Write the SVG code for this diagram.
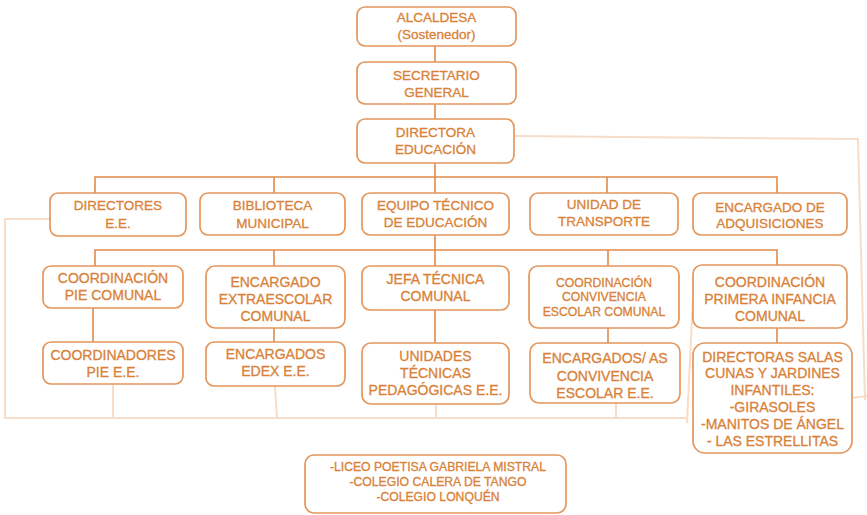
<svg xmlns="http://www.w3.org/2000/svg" width="867" height="515" viewBox="0 0 867 515">
<style>
.box{fill:#fff;stroke:#E3975C;stroke-width:1.7}
.t{font-family:"Liberation Sans",Arial,sans-serif;font-size:13.5px;fill:#D98137;stroke:#D98137;stroke-width:0.3;text-anchor:middle}
.m{font-size:14px}
.s{font-size:12.2px}
.dk{stroke:#E08A4A;stroke-width:1.6;fill:none}
.lt{stroke:#F7DCC7;stroke-width:2;fill:none}
</style>
<rect width="867" height="515" fill="#fff"/>
<g id="connectors">
<line class="dk" x1="435" y1="46" x2="435" y2="62"/>
<line class="dk" x1="435" y1="104" x2="435" y2="119"/>
<line class="dk" x1="435" y1="163" x2="435" y2="193"/>
<line class="dk" x1="435" y1="235" x2="435" y2="266"/>
<line class="dk" x1="435" y1="310" x2="435" y2="343"/>
<polyline class="dk" points="95,193 95,177 777,177 777,193"/>
<line class="dk" x1="274" y1="177" x2="274" y2="193"/>
<line class="dk" x1="607" y1="177" x2="607" y2="193"/>
<polyline class="dk" points="95,266 95,250 777,250 777,265"/>
<line class="dk" x1="274" y1="250" x2="274" y2="266"/>
<line class="dk" x1="608" y1="250" x2="608" y2="266"/>
<line class="dk" x1="93" y1="308" x2="93" y2="342"/>
<line class="dk" x1="274" y1="328" x2="274" y2="342"/>
<line class="dk" x1="608" y1="328" x2="608" y2="343"/>
<line class="dk" x1="777" y1="328" x2="777" y2="343"/>
<polyline class="lt" points="50,219 5,219 5,418 686,418"/>
<line class="lt" x1="687" y1="423" x2="693" y2="298"/>
<line class="lt" x1="113" y1="384" x2="113" y2="418"/>
<line class="lt" x1="275" y1="386" x2="277" y2="418"/>
<line class="lt" x1="436" y1="404" x2="436" y2="418"/>
<line class="lt" x1="616" y1="403" x2="616" y2="418"/>
<polyline class="lt" points="514,136 858,139 865,400"/>
<line class="lt" x1="852" y1="398" x2="867" y2="396"/>
</g>
<g id="alcaldesa"><rect class="box" x="357" y="7" width="159" height="39" rx="8"/><text class="t" x="436.5" y="22">ALCALDESA</text><text class="t" x="436.5" y="39">(Sostenedor)</text></g>
<g id="secretario"><rect class="box" x="357" y="62" width="159" height="42" rx="8"/><text class="t" x="436.5" y="80">SECRETARIO</text><text class="t" x="436.5" y="97">GENERAL</text></g>
<g id="directora"><rect class="box" x="357" y="119" width="157" height="44" rx="8"/><text class="t" x="435.5" y="137">DIRECTORA</text><text class="t" x="435.5" y="154">EDUCACIÓN</text></g>
<g id="directores"><rect class="box" x="50" y="193" width="136" height="43" rx="8"/><text class="t" x="118" y="210">DIRECTORES</text><text class="t" x="118" y="228">E.E.</text></g>
<g id="biblioteca"><rect class="box" x="200" y="193" width="145" height="42" rx="8"/><text class="t" x="272.5" y="210">BIBLIOTECA</text><text class="t" x="272.5" y="228">MUNICIPAL</text></g>
<g id="equipo"><rect class="box" x="362" y="193" width="147" height="42" rx="8"/><text class="t" x="435.5" y="210">EQUIPO TÉCNICO</text><text class="t" x="435.5" y="227">DE EDUCACIÓN</text></g>
<g id="transporte"><rect class="box" x="530" y="193" width="148" height="42" rx="8"/><text class="t" x="604" y="209">UNIDAD DE</text><text class="t" x="604" y="226">TRANSPORTE</text></g>
<g id="adquisiciones"><rect class="box" x="693" y="193" width="154" height="42" rx="8"/><text class="t" x="770" y="212">ENCARGADO DE</text><text class="t" x="770" y="228">ADQUISICIONES</text></g>
<g id="pie-comunal"><rect class="box" x="43" y="266" width="140" height="42" rx="8"/><text class="t m" x="113" y="283">COORDINACIÓN</text><text class="t m" x="113" y="300">PIE COMUNAL</text></g>
<g id="extraescolar"><rect class="box" x="206" y="266" width="139" height="62" rx="9"/><text class="t m" x="275.5" y="287">ENCARGADO</text><text class="t m" x="275.5" y="304">EXTRAESCOLAR</text><text class="t m" x="275.5" y="321">COMUNAL</text></g>
<g id="jefa-tecnica"><rect class="box" x="362" y="266" width="147" height="44" rx="8"/><text class="t m" x="435.5" y="284">JEFA TÉCNICA</text><text class="t m" x="435.5" y="301">COMUNAL</text></g>
<g id="convivencia"><rect class="box" x="529" y="266" width="150" height="62" rx="9"/><text class="t s" x="604" y="287">COORDINACIÓN</text><text class="t s" x="604" y="301">CONVIVENCIA</text><text class="t s" x="604" y="316">ESCOLAR COMUNAL</text></g>
<g id="primera-infancia"><rect class="box" x="693" y="265" width="154" height="63" rx="9"/><text class="t m" x="770" y="287">COORDINACIÓN</text><text class="t m" x="770" y="304">PRIMERA INFANCIA</text><text class="t m" x="770" y="321">COMUNAL</text></g>
<g id="pie-ee"><rect class="box" x="43" y="342" width="140" height="42" rx="8"/><text class="t m" x="113" y="360">COORDINADORES</text><text class="t m" x="113" y="377">PIE E.E.</text></g>
<g id="edex"><rect class="box" x="206" y="342" width="139" height="44" rx="8"/><text class="t m" x="275.5" y="359">ENCARGADOS</text><text class="t m" x="275.5" y="376">EDEX E.E.</text></g>
<g id="utp"><rect class="box" x="362" y="343" width="147" height="61" rx="9"/><text class="t m" x="435.5" y="361">UNIDADES</text><text class="t m" x="435.5" y="378">TÉCNICAS</text><text class="t m" x="435.5" y="395">PEDAGÓGICAS E.E.</text></g>
<g id="convivencia-ee"><rect class="box" x="530" y="343" width="150" height="60" rx="9"/><text class="t m" x="605" y="363">ENCARGADOS/ AS</text><text class="t m" x="605" y="381">CONVIVENCIA</text><text class="t m" x="605" y="398">ESCOLAR E.E.</text></g>
<g id="salas-cunas"><rect class="box" x="693" y="343" width="159" height="110" rx="12"/><text class="t m" x="772.5" y="362">DIRECTORAS SALAS</text><text class="t m" x="772.5" y="378">CUNAS Y JARDINES</text><text class="t m" x="772.5" y="395">INFANTILES:</text><text class="t m" x="772.5" y="412">-GIRASOLES</text><text class="t m" x="772.5" y="429">-MANITOS DE ÁNGEL</text><text class="t m" x="772.5" y="446">- LAS ESTRELLITAS</text></g>
<g id="colegios"><rect class="box" x="305" y="455" width="261" height="58" rx="9"/><text class="t s" x="438" y="471">-LICEO POETISA GABRIELA MISTRAL</text><text class="t s" x="438" y="486">-COLEGIO CALERA DE TANGO</text><text class="t s" x="438" y="501">-COLEGIO LONQUÉN</text></g>
</svg>
